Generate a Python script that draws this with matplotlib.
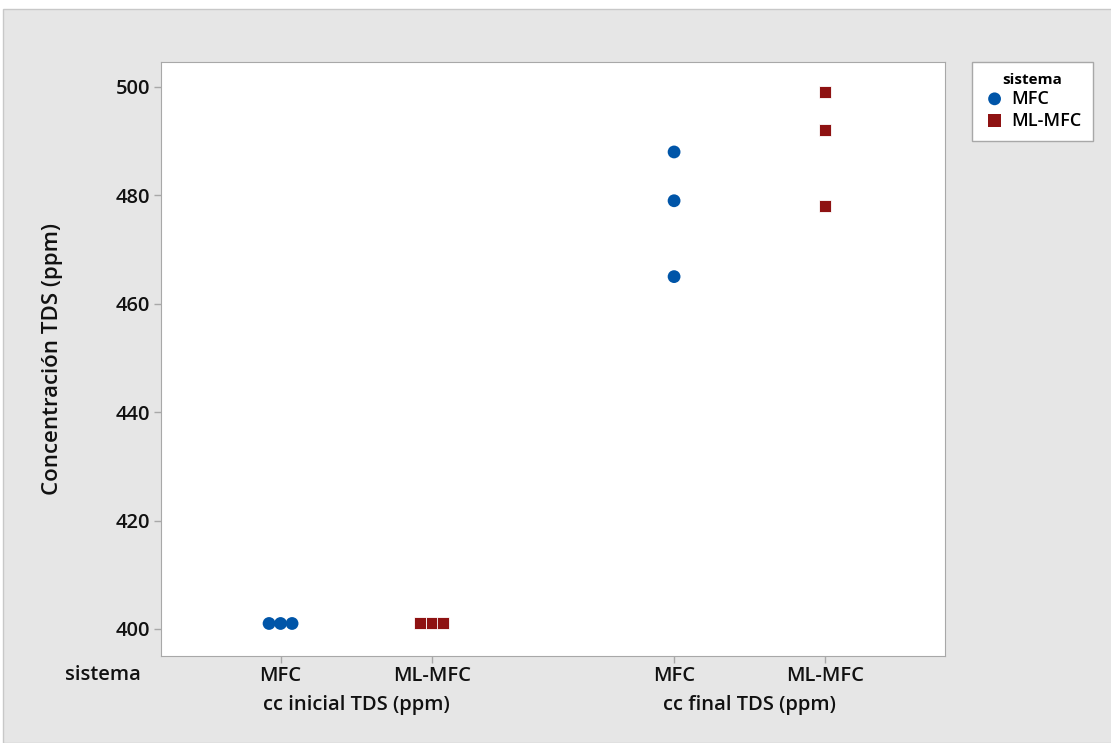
import numpy as np
import matplotlib.pyplot as plt
from matplotlib.patches import Rectangle

# Data (Concentración TDS, ppm)
groups = ["cc inicial TDS (ppm)", "cc final TDS (ppm)"]
sistemas = ["MFC", "ML-MFC"]
inicial_mfc = [401, 401, 401]
inicial_mlmfc = [401, 401, 401]
final_mfc = [488, 479, 465]
final_mlmfc = [499, 492, 478]

blue = "#0055A8"
red = "#8E1212"
font = "Open Sans"
wt = "semibold"
txt = "#111111"

fig = plt.figure(figsize=(11.11, 7.43), dpi=100)
fig.patch.set_facecolor("white")
# grey panel behind the plot
fig.patches.append(Rectangle((3 / 1111, 0), 1, 1 - 9 / 743, transform=fig.transFigure,
                             facecolor="#E6E6E6", edgecolor="#C8C8C8", lw=1, zorder=-5))

ax = fig.add_axes([161 / 1111, 1 - 656 / 743, (945 - 161) / 1111, (656 - 62) / 743])
ax.set_zorder(2)
ax.set_facecolor("white")

positions = [1.0, 2.0, 3.6, 4.6]
series = [(inicial_mfc, "o", blue), (inicial_mlmfc, "s", red),
          (final_mfc, "o", blue), (final_mlmfc, "s", red)]

def dodge(vals, step=0.076):
    # spread tied values side by side
    offs = np.zeros(len(vals))
    for v in set(vals):
        idx = [i for i, x in enumerate(vals) if x == v]
        n = len(idx)
        for k, i in enumerate(idx):
            offs[i] = (k - (n - 1) / 2) * step
    return offs

for pos, (vals, mk, col) in zip(positions, series):
    xs = pos + dodge(vals)
    if mk == "o":
        ax.scatter(xs, vals, marker=mk, s=85, color=col, edgecolors="none", zorder=3)
    else:
        ax.scatter(xs, vals, marker=mk, s=80, color=col, edgecolors="white",
                   linewidths=0.6, zorder=3)

ax.set_xlim(0.21, 5.39)
ax.set_ylim(395.0, 504.6)
ax.set_yticks([400, 420, 440, 460, 480, 500])
ax.set_xticks(positions)
ax.set_xticklabels(sistemas * 2)

for s in ax.spines.values():
    s.set_color("#A8A8A8")
ax.tick_params(axis="both", colors="#A8A8A8", length=5, width=1, labelcolor=txt)
for lab in ax.get_yticklabels() + ax.get_xticklabels():
    lab.set_fontfamily(font)
    lab.set_fontsize(14.5)
    lab.set_fontweight(wt)
ax.tick_params(axis="x", pad=2)
ax.tick_params(axis="y", pad=3)

ax.set_ylabel("Concentración TDS (ppm)", fontfamily=font, fontsize=16,
              fontweight=wt, color=txt)
ax.yaxis.set_label_coords(-0.125, 0.5)

# group labels and row label below the axis
for (a, b), g in zip([(positions[0], positions[1]), (positions[2], positions[3])], groups):
    ax.text((a + b) / 2, -0.082, g, transform=ax.get_xaxis_transform(), ha="center",
            va="center", fontfamily=font, fontsize=14.5, fontweight=wt, color=txt)
fig.text(103 / 1111, 1 - 675 / 743, "sistema", ha="center", va="center",
         fontfamily=font, fontsize=14.5, fontweight=wt, color=txt)

# legend
h1 = ax.scatter([], [], marker="o", s=85, color=blue, edgecolors="none")
h2 = ax.scatter([], [], marker="s", s=80, color=red, edgecolors="none")
leg = fig.legend([h1, h2], sistemas, title="sistema", loc="upper left",
                 bbox_to_anchor=(972 / 1111, 1 - 62 / 743), borderaxespad=0,
                 frameon=True, fancybox=False,
                 prop={"family": font, "weight": wt, "size": 13},
                 handletextpad=0.3, borderpad=0.6, labelspacing=0.2, handlelength=1.3,
                 handleheight=0.9, framealpha=1)
leg.get_title().set_fontfamily(font)
leg.get_title().set_fontweight("bold")
leg.get_title().set_fontsize(11)
leg.get_frame().set_edgecolor("#A8A8A8")
leg.get_frame().set_linewidth(1)

fig.savefig("out.png", dpi=100)
